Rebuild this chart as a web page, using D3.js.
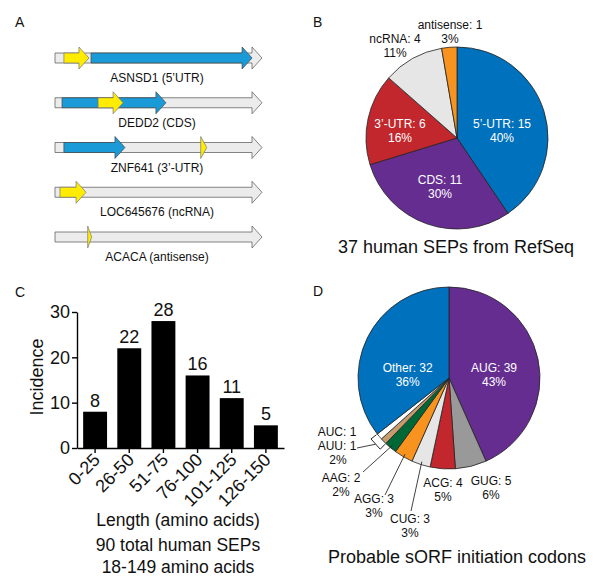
<!DOCTYPE html>
<html><head><meta charset="utf-8">
<script src="https://cdn.jsdelivr.net/npm/d3@7"></script>
<style>body{margin:0;background:#fff}svg{display:block}text{font-family:'Liberation Sans',Arial,Helvetica,sans-serif;fill:#111}</style>
</head><body><svg id="c" width="600" height="586"></svg>
<script>
// ---------- Panel A data (gene coordinates 0-100) ----------
const geneNames = ["ASNSD1 (5’UTR)", "DEDD2 (CDS)", "ZNF641 (3’-UTR)", "LOC645676 (ncRNA)", "ACACA (antisense)"];
const cdsSpans = [[17.4, 95.2], [3.4, 53.6], [4.3, 33.8], null, null];
const sepSpans = [[4.3, 16.4], [20.8, 32.9], [70.4, 73.3], [2.4, 15.0], [15.8, 17.7]];
// ---------- Panel B data ----------
const refseqClasses = ["5’-UTR", "CDS", "3’-UTR", "ncRNA", "antisense"];
const refseqCounts = [15, 11, 6, 4, 1];
const refseqPct = ["40%", "30%", "16%", "11%", "3%"];
// ---------- Panel C data ----------
const lengthBins = ["0-25", "26-50", "51-75", "76-100", "101-125", "126-150"];
const lengthCounts = [8, 22, 28, 16, 11, 5];
const incidenceTicks = [0, 10, 20, 30];
// ---------- Panel D data ----------
const codons = ["AUG", "GUG", "ACG", "CUG", "AGG", "AAG", "AUU", "AUC", "Other"];
const codonCounts = [39, 5, 4, 3, 3, 2, 1, 1, 32];
const codonPct = ["43%", "6%", "5%", "3%", "3%", "2%", "1%", "1%", "36%"];

const svg = d3.select("#c");
const FONT = "'Liberation Sans',Arial,Helvetica,sans-serif";

function panelLabel(t, x, y) {
  svg.append("text").attr("x", x).attr("y", y).attr("font-size", 14).text(t);
}
panelLabel("A", 15, 27); panelLabel("B", 313, 27); panelLabel("C", 15, 297); panelLabel("D", 313, 296);

// ---------- Panel A ----------
const xA = d3.scaleLinear().domain([0, 100]).range([55, 262]);
const yA = d3.scalePoint().domain(geneNames).range([58, 237]);
const BH = 5, HH = 11, HL = 10;
function arrowPath(x0, x1, y) {
  const hl = Math.min(HL, x1 - x0), xh = x1 - hl;
  if (xh <= x0 + 0.01) return `M${x0},${y - HH}L${x1},${y}L${x0},${y + HH}Z`;
  return `M${x0},${y - BH}L${xh},${y - BH}L${xh},${y - HH}L${x1},${y}L${xh},${y + HH}L${xh},${y + BH}L${x0},${y + BH}Z`;
}
const gA = svg.append("g");
geneNames.forEach((g, i) => {
  const y = yA(g);
  gA.append("path").attr("d", arrowPath(xA(0), xA(100), y)).attr("fill", "#ececec").attr("stroke", "#666").attr("stroke-width", 0.8);
  if (cdsSpans[i]) gA.append("path").attr("d", arrowPath(xA(cdsSpans[i][0]), xA(cdsSpans[i][1]), y)).attr("fill", "#1b9ad8").attr("stroke", "#444").attr("stroke-width", 0.7);
  if (sepSpans[i]) gA.append("path").attr("d", arrowPath(xA(sepSpans[i][0]), xA(sepSpans[i][1]), y)).attr("fill", "#ffec00").attr("stroke", "#777").attr("stroke-width", 0.7);
  gA.append("text").attr("x", 157).attr("y", y + 24).attr("text-anchor", "middle").attr("font-size", 12).text(g);
});

// ---------- Pie helper ----------
function polar(r, a) { return [r * Math.sin(a), -r * Math.cos(a)]; }

// ---------- Panel B ----------
const colB = ["#0071bc", "#662d91", "#c1272d", "#e6e6e6", "#f7931e"];
const cB = [457, 138], R = 91;
const pieB = d3.pie().sort(null).value(d => d)(refseqCounts);
const arcB = d3.arc().innerRadius(0).outerRadius(R);
const gB = svg.append("g").attr("transform", `translate(${cB})`);
gB.selectAll("path").data(pieB).join("path").attr("d", arcB)
  .attr("fill", (d, i) => colB[i]).attr("stroke", "#222").attr("stroke-width", 0.8);
// label layout offsets relative to pie centre
const labLayoutB = [[45, -7], [-17, 49], [-57, -7], [-62, -92], [-7, -106]];
pieB.forEach((d, i) => {
  const inside = i < 3;
  const [x, y] = labLayoutB[i];
  const t = gB.append("text").attr("text-anchor", "middle").attr("font-size", 12).style("fill", inside ? "#fff" : "#111");
  t.append("tspan").attr("x", x).attr("y", y - 3).text(refseqClasses[i] + ": " + refseqCounts[i]);
  t.append("tspan").attr("x", x).attr("y", y + 11).text(refseqPct[i]);
});
svg.append("text").attr("x", 456).attr("y", 253).attr("text-anchor", "middle").attr("font-size", 18).text("37 human SEPs from RefSeq");

// ---------- Panel C ----------
const xC = d3.scaleBand().domain(lengthBins).range([77, 284]).paddingInner(0.3).paddingOuter(0.18);
const yC = d3.scaleLinear().domain([0, 30]).range([448, 312]);
const gC = svg.append("g");
gC.selectAll("rect").data(lengthCounts).join("rect")
  .attr("x", (d, i) => xC(lengthBins[i])).attr("width", xC.bandwidth())
  .attr("y", d => yC(d)).attr("height", d => yC(0) - yC(d)).attr("fill", "#000");
gC.selectAll("text.val").data(lengthCounts).join("text").attr("class", "val")
  .attr("x", (d, i) => xC(lengthBins[i]) + xC.bandwidth() / 2).attr("y", d => yC(d) - 5)
  .attr("text-anchor", "middle").attr("font-size", 18).text(d => d);
const yAx = gC.append("g").attr("transform", "translate(77,0)")
  .call(d3.axisLeft(yC).tickValues(incidenceTicks).tickSize(5).tickSizeOuter(0).tickPadding(2));
const xAx = gC.append("g").attr("transform", "translate(0,448)")
  .call(d3.axisBottom(xC).tickSize(5).tickSizeOuter(0).tickFormat(""));
[yAx, xAx].forEach(a => { a.selectAll("path,line").attr("stroke", "#000").attr("stroke-width", 1.4); a.selectAll("text").attr("font-size", 18).attr("font-family", FONT).attr("fill", "#111"); });
gC.selectAll("text.xl").data(lengthBins).join("text").attr("class", "xl")
  .attr("transform", d => `translate(${xC(d) + xC.bandwidth() / 2 + 6},461) rotate(-45)`)
  .attr("text-anchor", "end").attr("font-size", 18).text(d => d);
svg.append("text").attr("transform", "translate(43,377) rotate(-90)").attr("text-anchor", "middle").attr("font-size", 18).text("Incidence");
svg.append("text").attr("x", 178).attr("y", 526).attr("text-anchor", "middle").attr("font-size", 17.5).text("Length (amino acids)");
svg.append("text").attr("x", 178).attr("y", 551).attr("text-anchor", "middle").attr("font-size", 17.5).text("90 total human SEPs");
svg.append("text").attr("x", 178).attr("y", 573).attr("text-anchor", "middle").attr("font-size", 17.5).text("18-149 amino acids");

// ---------- Panel D ----------
const colD = ["#662d91", "#999999", "#c1272d", "#e6e6e6", "#f7931e", "#006837", "#c69c6d", "#ffffff", "#0071bc"];
const cD = [449, 378];
const pieD = d3.pie().sort(null).value(d => d)(codonCounts);
const gD = svg.append("g").attr("transform", `translate(${cD})`);
gD.selectAll("path").data(pieD).join("path").attr("d", arcB)
  .attr("fill", (d, i) => colD[i]).attr("stroke", "#222").attr("stroke-width", 0.8);
function mid(i) { return (pieD[i].startAngle + pieD[i].endAngle) / 2; }
function twoLine(x, y, l1, l2, fill) {
  const t = gD.append("text").attr("text-anchor", "middle").attr("font-size", 12).style("fill", fill || "#111");
  t.append("tspan").attr("x", x).attr("y", y - 3).text(l1);
  if (l2) t.append("tspan").attr("x", x).attr("y", y + 11).text(l2);
}
const lab = i => codons[i] + ": " + codonCounts[i];
// interior labels
[0, 8].forEach(i => { const [x] = polar(46, mid(i)); twoLine(x, -3, lab(i), codonPct[i], "#fff"); });
// outside labels (layout offsets relative to pie centre)
const outLayout = { 1: [42, 110], 2: [-6, 112], 3: [-39, 148], 4: [-75, 128], 5: [-108, 107] };
const leaderEnd = { 3: [-38, 133], 4: [-64, 117], 5: [-86, 94] };
Object.keys(outLayout).forEach(k => {
  const i = +k, [x, y] = outLayout[k];
  twoLine(x, y, lab(i), codonPct[i]);
  if (leaderEnd[i]) {
    const [ex, ey] = polar(88, mid(i));
    gD.append("line").attr("x1", ex).attr("y1", ey).attr("x2", leaderEnd[i][0]).attr("y2", leaderEnd[i][1]).attr("stroke", "#111").attr("stroke-width", 0.8);
  }
});
// bracket for AUU + AUC
const a0 = pieD[6].startAngle, a1 = pieD[7].endAngle, am = (a0 + a1) / 2;
const bp = [polar(92, a0), polar(99, a0), polar(99, a1), polar(92, a1)];
gD.append("path").attr("d", "M" + bp.join("L")).attr("fill", "#fff").attr("stroke", "#111").attr("stroke-width", 0.9);
const bm = polar(99, am);
gD.append("line").attr("x1", bm[0]).attr("y1", bm[1]).attr("x2", -92).attr("y2", 70).attr("stroke", "#111").attr("stroke-width", 0.8);
const tAU = gD.append("text").attr("text-anchor", "middle").attr("font-size", 12);
tAU.append("tspan").attr("x", -112).attr("y", 58).text(lab(7));
tAU.append("tspan").attr("x", -112).attr("y", 72).text(lab(6));
tAU.append("tspan").attr("x", -111).attr("y", 86).text("2%");
svg.append("text").attr("x", 457).attr("y", 563).attr("text-anchor", "middle").attr("font-size", 18).text("Probable sORF initiation codons");
</script></body></html>
